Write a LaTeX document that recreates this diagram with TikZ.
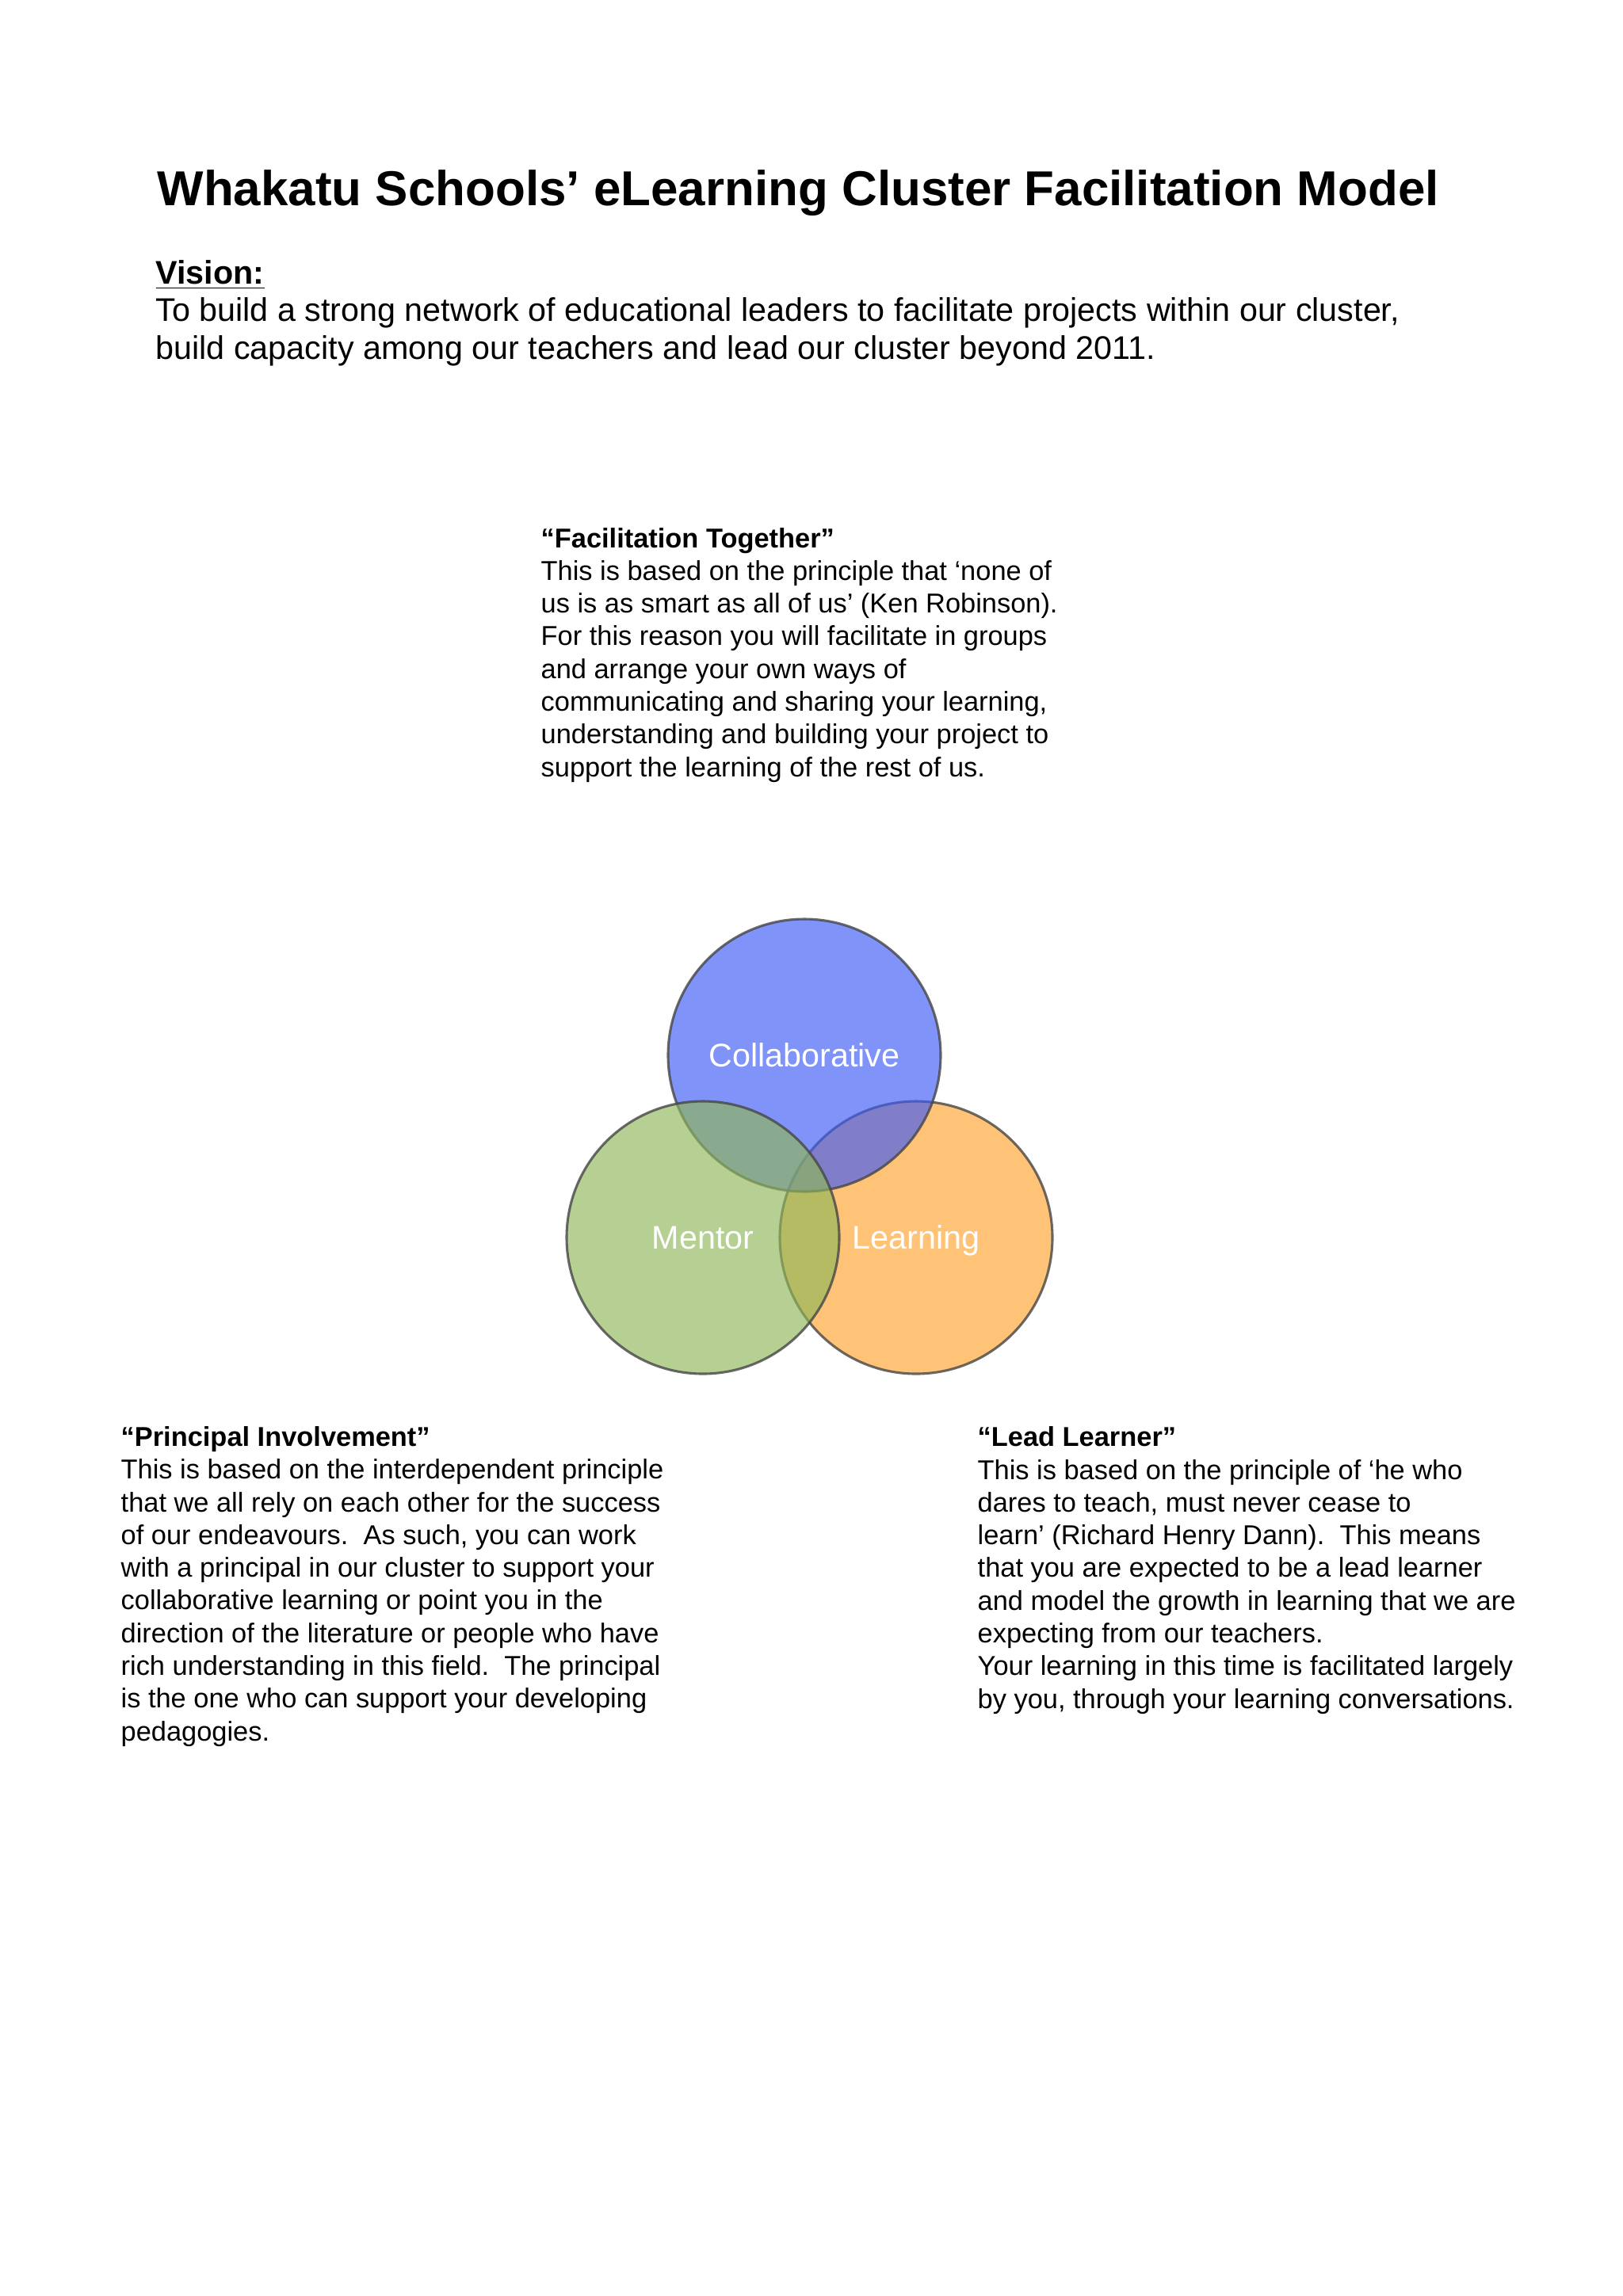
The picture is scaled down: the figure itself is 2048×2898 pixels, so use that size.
\documentclass[tikz,border=0pt]{standalone}
\usepackage{fontspec}
\setmainfont{Liberation Sans}
\usetikzlibrary{positioning}
\definecolor{CollabBlue}{RGB}{60,90,245}
\definecolor{MentorGreen}{RGB}{142,183,88}
\definecolor{LearnOrange}{RGB}{255,163,47}
\definecolor{RingGrey}{RGB}{70,70,70}
\tikzset{
  headline/.style={anchor=base west,inner sep=0,font=\fontsize{18}{22}\selectfont\bfseries},
  visiontext/.style={anchor=base west,inner sep=0,align=left,font=\fontsize{12}{13.8}\selectfont},
  blurb/.style={anchor=base west,inner sep=0,align=left,font=\fontsize{10}{12}\selectfont},
  ring/.style={circle,inner sep=0,minimum size=100pt,draw=RingGrey,line width=0.9pt,
    fill opacity=0.65,draw opacity=0.8,text opacity=1,text=white,text depth=0pt,
    font=\fontsize{12}{14}\selectfont}
}

\begin{document}
\begin{tikzpicture}[x=0.2907pt,y=-0.2907pt]
  \useasboundingbox[fill=white] (0,0) rectangle (2048,2898);
  \node[headline] (title) at (198,259) {Whakatu Schools’ eLearning Cluster Facilitation Model};
  % multi-line nodes sit on the baseline of their last line
  \node[visiontext] (vision) at (196,453) {
    \textbf{\underline{Vision:}}\\
    To build a strong network of educational leaders to facilitate projects within our cluster,\\
    build capacity among our teachers and lead our cluster beyond 2011.
  };
  \node[blurb] (together) at (682,980) {
    \textbf{“Facilitation Together”}\\
    This is based on the principle that ‘none of\\
    us is as smart as all of us’ (Ken Robinson).\\
    For this reason you will facilitate in groups\\
    and arrange your own ways of\\
    communicating and sharing your learning,\\
    understanding and building your project to\\
    support the learning of the rest of us.
  };
  % venn circles, orange first so blue and green sit on top
  \node[ring,fill=LearnOrange] (learning) at (1156,1562) {Learning};
  \node[ring,fill=CollabBlue] (collab) at (1015,1332) {Collaborative};
  \node[ring,fill=MentorGreen] (mentor) at (887,1562) {Mentor};
  \node[blurb] (principal) at (152,2197) {
    \textbf{“Principal Involvement”}\\
    This is based on the interdependent principle\\
    that we all rely on each other for the success\\
    of our endeavours.\ \ As such, you can work\\
    with a principal in our cluster to support your\\
    collaborative learning or point you in the\\
    direction of the literature or people who have\\
    rich understanding in this field.\ \ The principal\\
    is the one who can support your developing\\
    pedagogies.
  };
  \node[blurb] (leader) at (1233,2156) {
    \textbf{“Lead Learner”}\\
    This is based on the principle of ‘he who\\
    dares to teach, must never cease to\\
    learn’ (Richard Henry Dann).\ \ This means\\
    that you are expected to be a lead learner\\
    and model the growth in learning that we are\\
    expecting from our teachers.\\
    Your learning in this time is facilitated largely\\
    by you, through your learning conversations.
  };
\end{tikzpicture}
\end{document}
